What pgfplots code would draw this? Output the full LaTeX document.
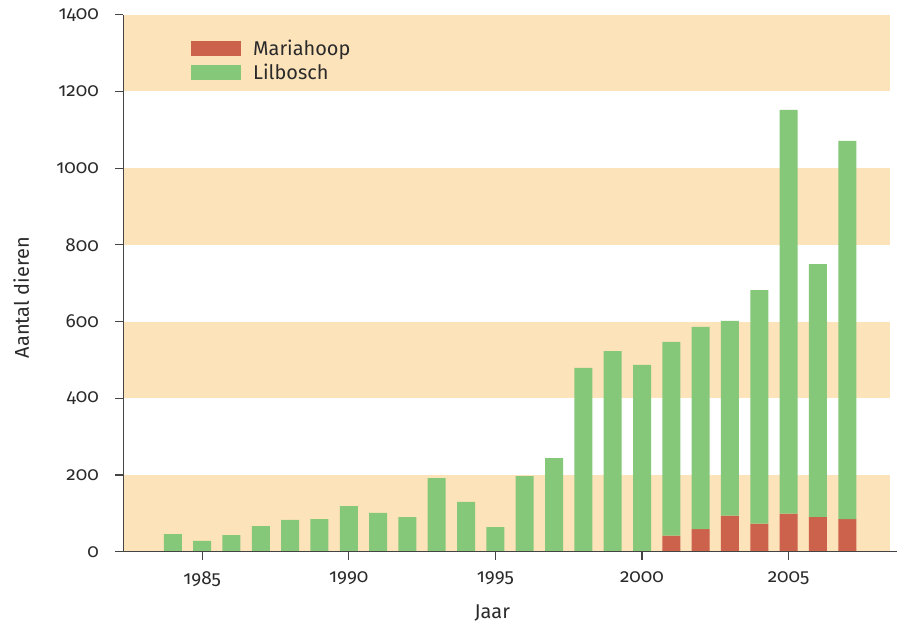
\documentclass[border=0pt]{standalone}
\usepackage{pgfplots}
\pgfplotsset{compat=1.18}
\usepackage{fontspec}
\setmainfont{Fira Sans}[Numbers=OldStyle, RawFeature={+onum}]
\definecolor{mred}{HTML}{CC614C}
\definecolor{mgreen}{HTML}{86C879}
\definecolor{band}{HTML}{FDE3BA}
\definecolor{txt}{HTML}{2A2A2A}
\definecolor{axl}{HTML}{444444}
\pgfplotstableread{
year mariahoop lilbosch
1984 0 46
1985 0 28
1986 0 43
1987 0 67
1988 0 83
1989 0 85
1990 0 119
1991 0 101
1992 0 90
1993 0 192
1994 0 130
1995 0 64
1996 0 197
1997 0 244
1998 0 479
1999 0 523
2000 0 487
2001 42 505
2002 59 527
2003 94 508
2004 73 609
2005 99 1053
2006 91 659
2007 85 986
}\datatable
\begin{document}
\begin{tikzpicture}
\useasboundingbox (-123.3bp,-75.3bp) rectangle (779.7bp,551.7bp);
\begin{axis}[
  scale only axis,
  width=773.5bp, height=537bp,
  xmin=1982.31, xmax=2008.69,
  ymin=0, ymax=1400,
  axis x line*=bottom, axis y line*=left,
  axis line style={axl, line width=1.2bp},
  axis on top,
  ybar stacked, bar width=18bp,
  reverse stacked plots=false,
  xtick={1985,1990,1995,2000,2005},
  xticklabels={1985,1990,1995,2000,2005},
  ytick={0,200,...,1400},
  yticklabels={0,200,400,600,800,1000,1200,1400},
  tick align=outside,
  major tick length=8bp,
  tick style={axl, line width=1.2bp},
  tick label style={font=\fontsize{19}{19}\selectfont, text=txt},
  yticklabel style={xshift=-13bp},
  xticklabel style={yshift=-8bp},
  xlabel={Jaar}, ylabel={Aantal dieren},
  label style={font=\fontsize{20}{20}\selectfont, text=txt},
  xlabel style={at={(axis description cs:0.477,-0.114)}, anchor=center},
  ylabel style={at={(axis description cs:-0.132,0.473)}, anchor=center},
  legend style={draw=none, fill=none, at={(rel axis cs:0.0875,0.957)}, anchor=north west,
    inner sep=0pt, font=\fontsize{20}{20}\selectfont, text=txt,
    row sep=3bp, /tikz/every odd column/.append style={column sep=10bp}},
  legend cell align=left,
  legend image code/.code={\fill[#1] (0bp,-7.5bp) rectangle (50bp,7.5bp);},
]
\addplot[sharp plot, stack plots=false, forget plot, fill=band, draw=none]
  coordinates {(1982.31,0) (2008.45,0) (2008.45,200) (1982.31,200)} -- cycle;
\addplot[sharp plot, stack plots=false, forget plot, fill=band, draw=none]
  coordinates {(1982.31,400) (2008.45,400) (2008.45,600) (1982.31,600)} -- cycle;
\addplot[sharp plot, stack plots=false, forget plot, fill=band, draw=none]
  coordinates {(1982.31,800) (2008.45,800) (2008.45,1000) (1982.31,1000)} -- cycle;
\addplot[sharp plot, stack plots=false, forget plot, fill=band, draw=none]
  coordinates {(1982.31,1200) (2008.45,1200) (2008.45,1400) (1982.31,1400)} -- cycle;
\addplot[fill=mred, draw=none] table[x=year, y=mariahoop] {\datatable};
\addplot[fill=mgreen, draw=none] table[x=year, y=lilbosch] {\datatable};
\legend{Mariahoop, Lilbosch}
\end{axis}
\end{tikzpicture}
\end{document}
